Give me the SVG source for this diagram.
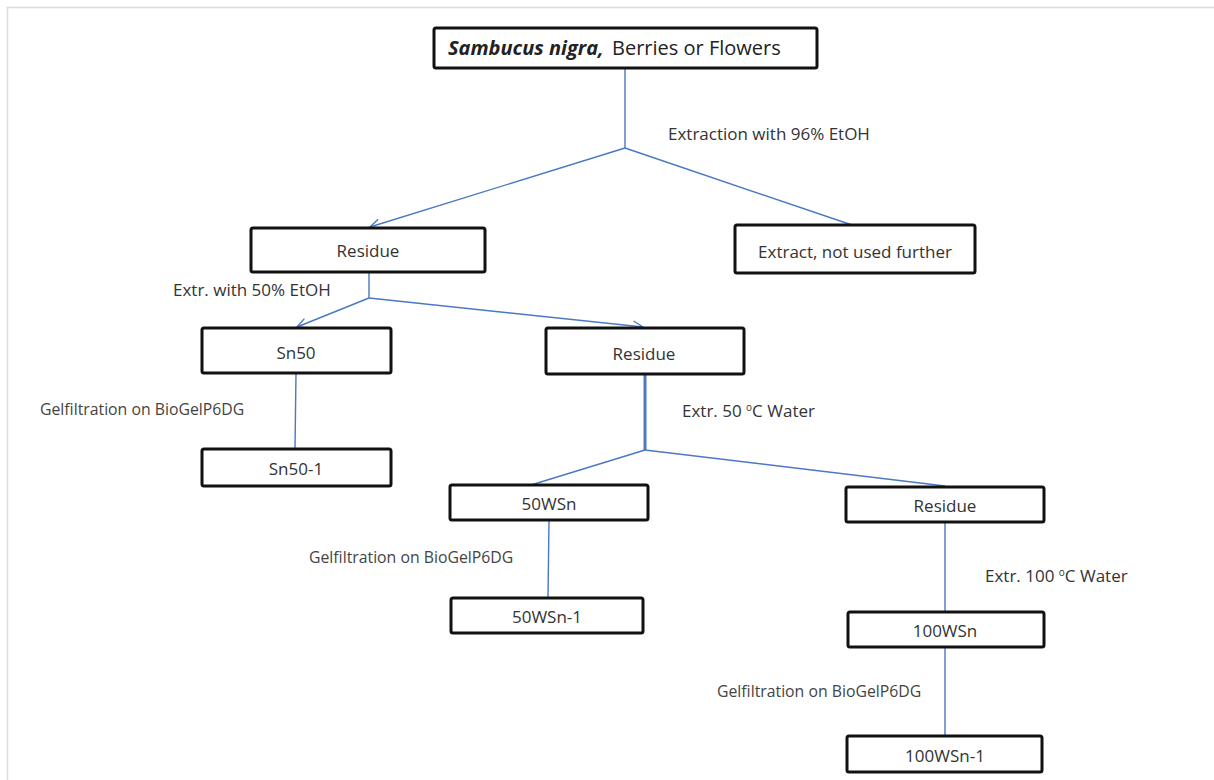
<svg xmlns="http://www.w3.org/2000/svg" width="1214" height="780" viewBox="0 0 1214 780">
<defs>
<style>
.box{fill:#fff;stroke:#111;stroke-width:3}
.t{font-family:"Open Sans","Liberation Sans",sans-serif;font-size:17px;fill:#333;text-anchor:middle;dominant-baseline:central}
.lab{font-family:"Open Sans","Liberation Sans",sans-serif;font-size:17px;fill:#333}
.gel{font-family:"Open Sans","Liberation Sans",sans-serif;font-size:15.8px;fill:#444}
.c{stroke:#4a78c4;stroke-width:1.4;fill:none}
</style>
<marker id="ah" viewBox="0 0 12 12" refX="11" refY="6" markerWidth="12" markerHeight="12" markerUnits="userSpaceOnUse" orient="auto">
<path d="M1,1 L11,6 L1,11" fill="none" stroke="#4a78c4" stroke-width="1.4"/>
</marker>
</defs>
<rect width="1214" height="780" fill="#fff"/>
<line x1="7" y1="7.5" x2="1214" y2="7.5" stroke="#dcdcdc" stroke-width="1.5"/>
<line x1="7.5" y1="7" x2="7.5" y2="780" stroke="#dcdcdc" stroke-width="1.5"/>
<g id="connectors">
<line class="c" x1="625" y1="68" x2="625" y2="148"/>
<line class="c" x1="625" y1="148" x2="370" y2="227" marker-end="url(#ah)"/>
<line class="c" x1="625" y1="148" x2="852" y2="225"/>
<line class="c" x1="369" y1="272" x2="369" y2="298"/>
<line class="c" x1="369" y1="298" x2="297" y2="327" marker-end="url(#ah)"/>
<line class="c" x1="369" y1="298" x2="643" y2="327" marker-end="url(#ah)"/>
<line class="c" x1="296" y1="373" x2="295" y2="449"/>
<line class="c" x1="645" y1="375" x2="645" y2="450" style="stroke-width:3"/>
<line class="c" x1="645" y1="450" x2="531" y2="485"/>
<line class="c" x1="645" y1="450" x2="945" y2="486"/>
<line class="c" x1="549" y1="520" x2="548" y2="598"/>
<line class="c" x1="945" y1="522" x2="945" y2="612"/>
<line class="c" x1="945" y1="647" x2="945" y2="736"/>
</g>
<g id="labels">
<text class="lab" x="668" y="140">Extraction with 96% EtOH</text>
<text class="lab" x="173" y="296">Extr. with 50% EtOH</text>
<text class="gel" x="40" y="415">Gelfiltration on BioGelP6DG</text>
<text class="lab" x="682" y="417">Extr. 50 <tspan font-size="10" dy="-6">o</tspan><tspan dy="6">C Water</tspan></text>
<text class="gel" x="309" y="563">Gelfiltration on BioGelP6DG</text>
<text class="lab" x="985" y="582">Extr. 100 <tspan font-size="10" dy="-6">o</tspan><tspan dy="6">C Water</tspan></text>
<text class="gel" x="717" y="697">Gelfiltration on BioGelP6DG</text>
</g>
<g id="n-top">
<rect class="box" x="434" y="28" width="383" height="40" rx="2"/>
<text x="448" y="55" font-family="'Open Sans','Liberation Sans',sans-serif" font-size="20" fill="#222"><tspan font-weight="bold" font-style="italic">Sambucus nigra,</tspan><tspan x="612">Berries or Flowers</tspan></text>
</g>
<g id="n-residue1">
<rect class="box" x="251" y="228" width="234" height="44" rx="2"/>
<text class="t" x="368" y="250">Residue</text>
</g>
<g id="n-extract">
<rect class="box" x="735" y="225" width="240" height="48" rx="2"/>
<text class="t" x="855" y="251">Extract, not used further</text>
</g>
<g id="n-sn50">
<rect class="box" x="202" y="328" width="189" height="45" rx="2"/>
<text class="t" x="296" y="352">Sn50</text>
</g>
<g id="n-residue2">
<rect class="box" x="546" y="328" width="198" height="46" rx="2"/>
<text class="t" x="644" y="353">Residue</text>
</g>
<g id="n-sn50-1">
<rect class="box" x="202" y="449" width="189" height="37" rx="2"/>
<text class="t" x="296" y="468">Sn50-1</text>
</g>
<g id="n-50wsn">
<rect class="box" x="450" y="485" width="198" height="35" rx="2"/>
<text class="t" x="549" y="503">50WSn</text>
</g>
<g id="n-residue3">
<rect class="box" x="846" y="487" width="198" height="35" rx="2"/>
<text class="t" x="945" y="505">Residue</text>
</g>
<g id="n-50wsn-1">
<rect class="box" x="451" y="598" width="192" height="35" rx="2"/>
<text class="t" x="547" y="616">50WSn-1</text>
</g>
<g id="n-100wsn">
<rect class="box" x="848" y="612" width="196" height="35" rx="2"/>
<text class="t" x="945" y="630">100WSn</text>
</g>
<g id="n-100wsn-1">
<rect class="box" x="847" y="736" width="195" height="36" rx="2"/>
<text class="t" x="945" y="755">100WSn-1</text>
</g>
</svg>
